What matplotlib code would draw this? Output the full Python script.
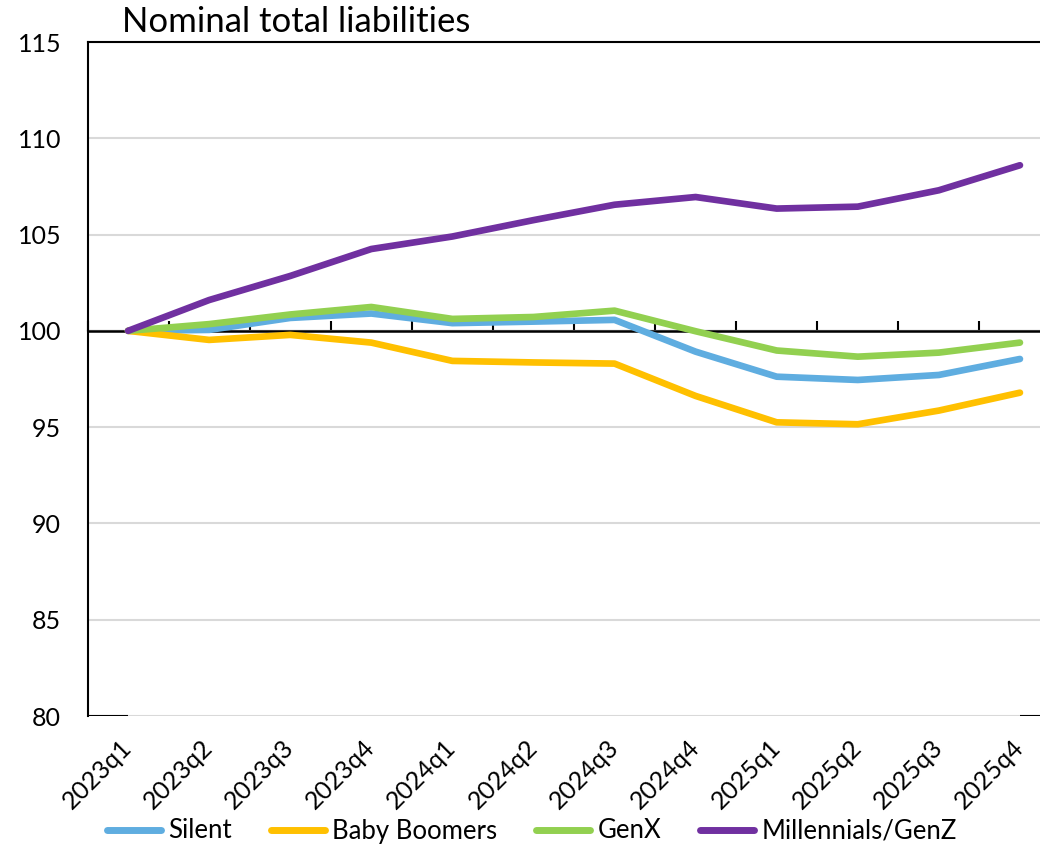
import matplotlib
matplotlib.use("Agg")
import matplotlib.pyplot as plt

plt.rcParams['font.family'] = ['Lato', 'DejaVu Sans']

quarters = ["2023q1", "2023q2", "2023q3", "2023q4", "2024q1", "2024q2",
            "2024q3", "2024q4", "2025q1", "2025q2", "2025q3", "2025q4"]
silent = [100.0, 100.05, 100.67, 100.9, 100.4, 100.48, 100.57, 98.92, 97.62, 97.45, 97.71, 98.54]
boomers = [100.0, 99.53, 99.79, 99.39, 98.44, 98.36, 98.3, 96.62, 95.25, 95.15, 95.86, 96.79]
genx = [100.0, 100.35, 100.85, 101.24, 100.62, 100.72, 101.05, 99.98, 98.98, 98.66, 98.87, 99.39]
millennials = [100.0, 101.6, 102.85, 104.25, 104.9, 105.75, 106.55, 106.95, 106.35, 106.45, 107.3, 108.6]

series_names = ["Silent", "Baby Boomers", "GenX", "Millennials/GenZ"]
series_values = [silent, boomers, genx, millennials]
colors = ["#5FADE0", "#FFC000", "#92D050", "#7030A0"]

title = "Nominal total liabilities"
yticks = [80, 85, 90, 95, 100, 105, 110, 115]
base_value = 100

W, H = 1040, 848
fig = plt.figure(figsize=(W / 100, H / 100), dpi=100)
ax = fig.add_axes([87.5 / W, 132 / H, 973 / W, 674 / H])

x = list(range(len(quarters)))
for name, vals, c in zip(series_names, series_values, colors):
    ax.plot(x, vals, color=c, lw=4.8, label=name, solid_capstyle='round',
            solid_joinstyle='round', zorder=3)

ax.set_xlim(-0.5, len(quarters) - 0.5)
ax.set_ylim(80, 115)
ax.set_yticks(yticks)
ax.set_yticklabels([str(v) for v in yticks])
ax.yaxis.grid(True, color="#D9D9D9", lw=1.5, zorder=0)
ax.set_axisbelow(True)

for s in ['right', 'bottom']:
    ax.spines[s].set_visible(False)
for s in ['left', 'top']:
    ax.spines[s].set_color('black')
    ax.spines[s].set_linewidth(1.5)

ax.tick_params(axis='y', length=0, pad=19, labelsize=18)
ax.set_xticks(x)
ax.set_xticklabels(quarters, rotation=45, ha='right', va='center',
                   rotation_mode='anchor', fontsize=18)
ax.tick_params(axis='x', length=0, pad=20)

# black fragments of the lower border
ax.hlines([80, 80], [-0.5, x[-1]], [x[0], x[-1] + 0.5], color='black', lw=1.5, zorder=2)

# horizontal axis crossing at 100 with tick marks between categories
ax.axhline(base_value, color='black', lw=1.8, zorder=2)
sec = ax.secondary_xaxis(location=(base_value - 80) / (115 - 80))
sec.set_xticks([i - 0.5 for i in range(len(quarters) + 1)])
sec.set_xticklabels([])
sec.tick_params(direction='out', length=7, width=1.5, color='black')
for sp in sec.spines.values():
    sp.set_linewidth(1.5)
    sp.set_color('black')

fig.text(122 / W, 1 - 22 / H, title, fontsize=25, ha='left', va='center')

leg = fig.legend(loc='center', bbox_to_anchor=(532 / W, 1 - 831 / H), ncol=4,
                 frameon=False, fontsize=18.5, handlelength=2.1, handletextpad=0.3,
                 columnspacing=1.5, borderpad=0, borderaxespad=0)
for line in leg.get_lines():
    line.set_linewidth(5)
    line.set_solid_capstyle('round')

fig.savefig("out.png", dpi=100)
